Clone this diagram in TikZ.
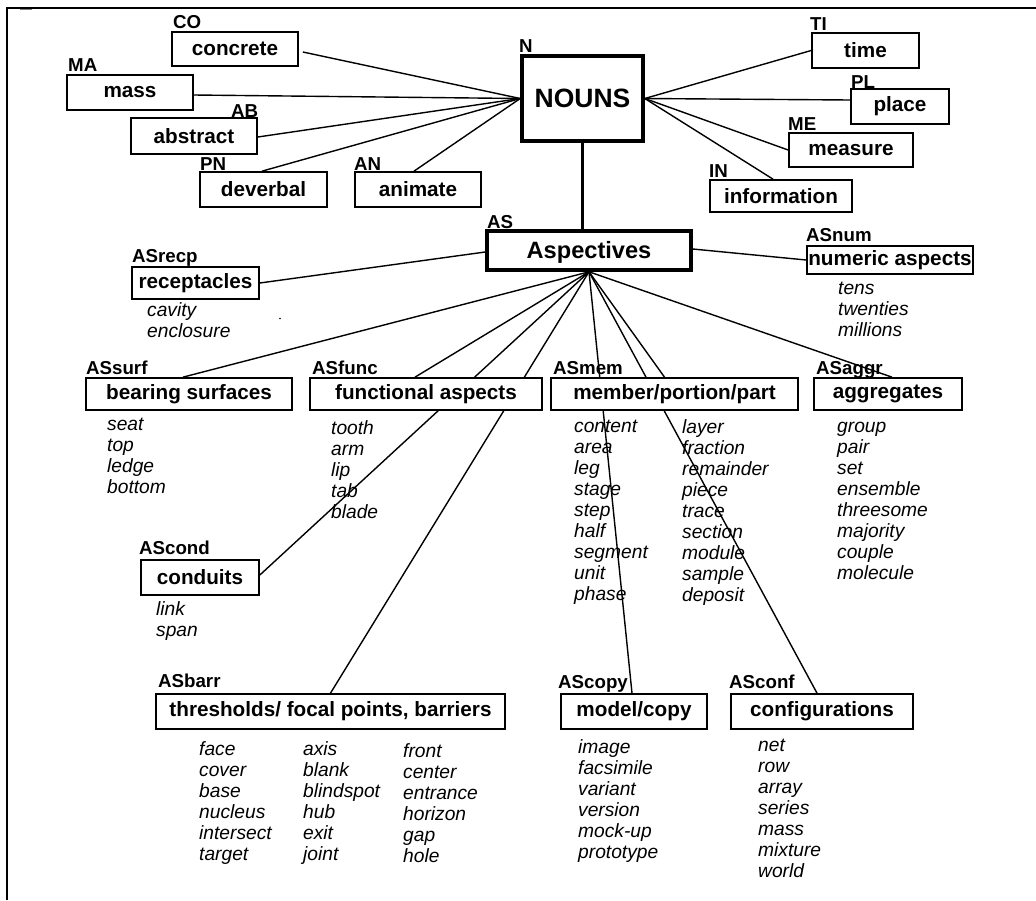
\documentclass[tikz,border=0pt]{standalone}
\usepackage{fontspec}
\setmainfont{Liberation Sans}
\usetikzlibrary{backgrounds}
\newcommand\mywords[4]{\foreach \w [count=\i] in {#4} {\node[item] (#1\i) at (#2,{#3+21*(\i-1)}) {\w};}}
\begin{document}
\begin{tikzpicture}[x=1pt,y=-1pt,
  box/.style={draw, line width=1.7pt, fill=white, inner sep=0pt, font=\fontsize{20.7}{24}\selectfont\bfseries},
  bigbox/.style={box, line width=3.6pt},
  lab/.style={anchor=base west, inner sep=0pt, font=\fontsize{18.7}{22}\selectfont\bfseries},
  item/.style={anchor=base west, inner sep=0pt, font=\fontsize{19.2}{21}\selectfont\itshape},
  conn/.style={line width=1.4pt},
]
\useasboundingbox (0,0) rectangle (1036,900);
% frame
\draw[line width=2.3pt] (6.8,900) -- (6.8,7.7) -- (1036,7.7);
\draw[gray, line width=1pt] (20,9) -- (32,9);

% noun boxes
\node[bigbox, minimum width=121pt, minimum height=85pt, font=\fontsize{26.5}{30}\selectfont\bfseries] (N) at (582.5,98.5) {NOUNS};
\node[box, minimum width=126pt, minimum height=34pt] (co) at (235,49) {concrete};
\node[box, minimum width=126pt, minimum height=35pt] (ma) at (130,92.5) {mass};
\node[box, minimum width=126pt, minimum height=36pt] (ab) at (194,136) {abstract};
\node[box, minimum width=127pt, minimum height=35pt] (pn) at (263.5,189.5) {deverbal};
\node[box, minimum width=126pt, minimum height=35pt] (an) at (418,189.5) {animate};
\node[box, minimum width=107pt, minimum height=35pt] (ti) at (865.5,50.5) {time};
\node[box, minimum width=98pt, minimum height=35pt] (pl) at (900,106.5) {place};
\node[box, minimum width=124pt, minimum height=34pt] (me) at (851,150) {measure};
\node[box, minimum width=142pt, minimum height=32pt] (in) at (781,196) {information};

% aspectives
\node[bigbox, minimum width=204pt, minimum height=39pt, font=\fontsize{23.6}{28}\selectfont\bfseries, text depth=1pt] (AS) at (589,250.5) {Aspectives};
\node[box, minimum width=127pt, minimum height=32pt] (recp) at (195.5,283) {receptacles};
\node[box, minimum width=166pt, minimum height=28pt] (num) at (890,260) {numeric aspects};
\node[box, minimum width=206pt, minimum height=32pt] (surf) at (189,394) {bearing surfaces};
\node[box, minimum width=232pt, minimum height=32pt] (func) at (426,394) {functional aspects};
\node[box, minimum width=247pt, minimum height=32pt] (mem) at (674.5,394) {member/portion/part};
\node[box, minimum width=148pt, minimum height=32pt] (aggr) at (888,394) {aggregates};
\node[box, minimum width=118pt, minimum height=35pt] (cond) at (200,577.5) {conduits};
\node[box, minimum width=349pt, minimum height=35pt] (barr) at (330.5,711.5) {thresholds/ focal points, barriers};
\node[box, minimum width=146pt, minimum height=35pt] (copy) at (634,711.5) {model/copy};
\node[box, minimum width=182pt, minimum height=35pt] (conf) at (822,711.5) {configurations};

% labels
\node[lab] (lCO) at (173,28.5) {CO};
\node[lab] (lMA) at (68,71) {MA};
\node[lab] (lAB) at (231,117.5) {AB};
\node[lab] (lPN) at (200,170) {PN};
\node[lab] (lAN) at (354,170) {AN};
\node[lab] (lN) at (519,52.5) {N};
\node[lab] (lTI) at (810,30.5) {TI};
\node[lab] (lPL) at (851,88.5) {PL};
\node[lab] (lME) at (788,130) {ME};
\node[lab] (lIN) at (709,177) {IN};
\node[lab] (lAS) at (487,228) {AS};
\node[lab] (lrecp) at (132,262.5) {ASrecp};
\node[lab] (lnum) at (806,241.5) {ASnum};
\node[lab] (lsurf) at (86,374) {ASsurf};
\node[lab] (lfunc) at (312,374) {ASfunc};
\node[lab] (lmem) at (553,374) {ASmem};
\node[lab] (laggr) at (816,374) {ASaggr};
\node[lab] (lcond) at (139,554) {AScond};
\node[lab] (lbarr) at (158,687) {ASbarr};
\node[lab] (lcopy) at (558,688) {AScopy};
\node[lab] (lconf) at (729,688) {ASconf};

% word lists
\mywords{wr}{147}{316.5}{cavity,enclosure}
\mywords{wn}{838}{294}{tens,twenties,millions}
\mywords{ws}{107}{430}{seat,top,ledge,bottom}
\mywords{wf}{331}{434}{tooth,arm,lip,tab,blade}
\mywords{wma}{574}{432}{content,area,leg,stage,step,half,segment,unit,phase}
\mywords{wmb}{682}{433.5}{layer,fraction,remainder,piece,trace,section,module,sample,deposit}
\mywords{wg}{837}{432}{group,pair,set,ensemble,threesome,majority,couple,molecule}
\mywords{wc}{156}{615}{link,span}
\mywords{wba}{199}{755}{face,cover,base,nucleus,intersect,target}
\mywords{wbb}{303}{755}{axis,blank,blindspot,hub,exit,joint}
\mywords{wbc}{403}{757}{front,center,entrance,horizon,gap,hole}
\mywords{wp}{578}{753}{image,facsimile,variant,version,mock-up,prototype}
\mywords{wk}{758}{751}{net,row,array,series,mass,mixture,world}

\fill (280,318.5) circle (0.9pt);

% connectors
\begin{pgfonlayer}{background}
\draw[conn] ([xshift=4pt,yshift=-3pt]co.east) -- (N.west);
\draw[conn] ([yshift=-2.5pt]ma.east) -- (N.west);
\draw[conn] ([yshift=-1pt]ab.east) -- (N.west);
\draw[conn] ([xshift=-1.5pt]pn.north) -- (N.west);
\draw[conn] ([xshift=-4pt]an.north) -- (N.west);
\draw[conn] (N.east) -- (ti.west);
\draw[conn] (N.east) -- ([yshift=6.5pt]pl.west);
\draw[conn] (N.east) -- (me.west);
\draw[conn] (N.east) -- ([xshift=-8pt]in.north);
\draw[line width=3pt] (N.south) -- (N.south |- AS.north);
\draw[conn] ([yshift=-1.5pt]AS.west) -- (recp.east);
\draw[conn] ([yshift=1.5pt]AS.east) -- (num.west);
\draw[conn] (AS.south) -- ([xshift=-6pt]surf.north);
\draw[conn] (AS.south) -- ([xshift=-11pt]func.north);
\draw[conn] (AS.south) -- ([yshift=2.5pt]cond.east);
\draw[conn] (AS.south) -- (barr.north);
\draw[conn] (AS.south) -- ([xshift=-2pt]copy.north);
\draw[conn] (AS.south) -- ([xshift=-10pt]mem.north);
\draw[conn] (AS.south) -- ([xshift=-5pt]conf.north);
\draw[conn] (AS.south) -- ([xshift=4pt]aggr.north);
\end{pgfonlayer}
\end{tikzpicture}
\end{document}
